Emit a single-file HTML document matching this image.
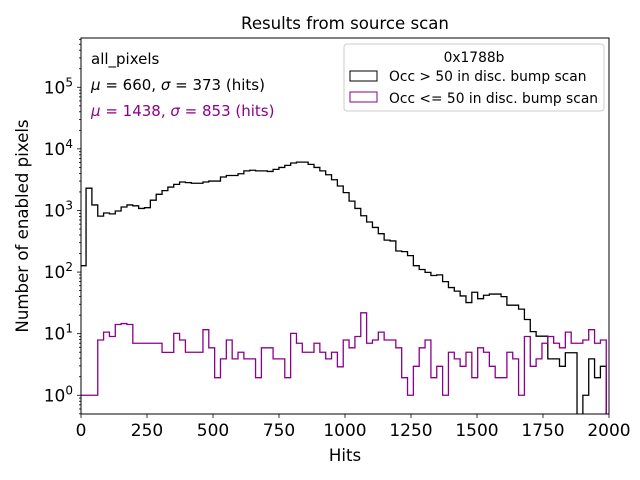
<!DOCTYPE html>
<html><head><meta charset="utf-8"><style>
html,body{margin:0;padding:0;background:#fff;width:640px;height:480px;overflow:hidden}
svg{display:block;font-family:"DejaVu Sans","Liberation Sans",sans-serif}
</style></head><body>
<svg id="chart" width="640" height="480" viewBox="0 0 640 480" xmlns="http://www.w3.org/2000/svg">
<rect width="640" height="480" fill="#fff"/>
<defs><clipPath id="pa"><rect x="81" y="38" width="528" height="376"/></clipPath></defs>
<text x="345" y="29" font-size="16.6" text-anchor="middle">Results from source scan</text>
<g id="series" clip-path="url(#pa)"></g>
<rect x="81" y="38" width="528" height="376" fill="none" stroke="#000" stroke-width="1"/>
<g id="axes"></g>
<text x="345" y="461" font-size="16.6" text-anchor="middle">Hits</text>
<text transform="translate(28,226) rotate(-90)" font-size="16.6" text-anchor="middle">Number of enabled pixels</text>
<text x="91" y="64" font-size="15">all_pixels</text>
<text x="91" y="90" font-size="15"><tspan font-style="italic">μ</tspan> = 660, <tspan font-style="italic">σ</tspan> = 373 (hits)</text>
<text x="91" y="116" font-size="15" fill="#8b008b"><tspan font-style="italic">μ</tspan> = 1438, <tspan font-style="italic">σ</tspan> = 853 (hits)</text>
<g>
<rect x="344" y="44" width="260" height="67" rx="3" fill="#fff" fill-opacity="0.8" stroke="#ccc"/>
<text x="474" y="62" font-size="13.8" text-anchor="middle">0x1788b</text>
<rect x="350" y="71" width="27" height="10" fill="none" stroke="#000"/>
<text x="389" y="81" font-size="13.8">Occ &gt; 50 in disc. bump scan</text>
<rect x="350" y="92" width="27" height="10" fill="none" stroke="#8b008b"/>
<text x="389" y="103" font-size="13.8">Occ &lt;= 50 in disc. bump scan</text>
</g>
</svg>
<script>
const binStart = -3;
const binWidth = 22.14;
const blackCounts = [127,2300,1230,810,910,880,980,1140,1230,1190,1080,1110,1470,1830,2100,2400,2650,2900,2830,2770,2770,2900,3000,3000,3500,3700,3700,3950,4400,4500,
4400,4400,4300,4650,5000,5400,5900,6100,6100,5600,5000,4400,3800,3150,2500,1950,1420,1080,820,650,530,420,330,320,220,215,185,127,110,99,88,
90,70,56,49,41,32,47,37,42,44,44,40,29,29,25,17,10.8,9.1,9.1,3.9,3.9,2.95,4.9,4.9,0,1,3.9,1.93,2.95,0];
const purpleCounts = [1,1,1,7.9,10.6,9.0,14.1,14.6,14.1,7,7,7,7,7,4.97,4.97,10.1,7.9,5,5,5,11.6,5.9,1.93,3.9,7.9,3.9,5,3.9,3.9,
1.93,5.9,5.9,3.9,3.9,1.93,10.1,7,5,5,7,5,3.9,5,2.9,7.9,5.9,9,21.8,7,7.9,10.6,7.9,7.9,5.9,1.93,1,2.95,5.9,7.9,1.93,
2.95,1,5,3.9,2.95,5,1.93,5.9,5,2.95,1.93,1.93,5,3.9,1,9,2.95,3.9,7,9,7,5.9,10.6,7,7,7.9,11.6,7,7.9,0];
const xTicks = [0,250,500,750,1000,1250,1500,1750,2000];
const yTicks = [0,1,2,3,4,5];

const NS = "http://www.w3.org/2000/svg";
const X0=81, X1=609, Y0=414, Y1=38, L0=-0.304, L1=5.8;
function xs(v){return X0+(v-0)/(2000-0)*(X1-X0);}
function ys(c){
  if(!(c>0)) return Y0+1;
  const y=Y0-(Math.log10(c)-L0)/(L1-L0)*(Y0-Y1);
  return Math.min(y,Y0+1);
}

function stepPath(counts){
  let d="M"+xs(binStart)+","+(Y0+1);
  counts.forEach((c,i)=>{
    const a=xs(binStart+i*binWidth), b=xs(binStart+(i+1)*binWidth), y=ys(c);
    d+=" L"+a+","+y+" L"+b+","+y;
  });
  d+=" L"+xs(binStart+counts.length*binWidth)+","+(Y0+1);
  return d;
}
const g=document.getElementById("series");
[[blackCounts,"#000","series-occ-gt-50"],[purpleCounts,"#8b008b","series-occ-le-50"]].forEach(s=>{
  const p=document.createElementNS(NS,"path");
  p.setAttribute("d",stepPath(s[0]));
  p.setAttribute("fill","none");
  p.setAttribute("stroke",s[1]);
  p.setAttribute("stroke-width","1.3");
  
  
  g.appendChild(p);
});
const ax=document.getElementById("axes");
function line(x1,y1,x2,y2,name){
  const l=document.createElementNS(NS,"line");
  l.setAttribute("x1",x1);l.setAttribute("y1",y1);l.setAttribute("x2",x2);l.setAttribute("y2",y2);
  l.setAttribute("stroke","#000");l.setAttribute("stroke-width","0.8");
  
  
  ax.appendChild(l);
}
xTicks.forEach(t=>{
  const x=xs(t);
  line(x,Y0,x,Y0+4,"x-tick");
  const tx=document.createElementNS(NS,"text");
  tx.setAttribute("x",x);tx.setAttribute("y",Y0+22);tx.setAttribute("font-size","17");tx.setAttribute("text-anchor","middle");
  tx.textContent=t;
  
  
  ax.appendChild(tx);
});
for(let e=-1;e<=5;e++){
  for(let m=1;m<=9;m++){
    const v=m*Math.pow(10,e);
    const y=Y0-(Math.log10(v)-L0)/(L1-L0)*(Y0-Y1);
    if(y<Y1-0.5||y>Y0+0.5) continue;
    line(X0-(m===1?4:2),y,X0,y,m===1?"y-major-tick":"y-minor-tick");
  }
}
yTicks.forEach(e=>{
  const y=ys(Math.pow(10,e));
  const tx=document.createElementNS(NS,"text");
  tx.setAttribute("x",X0-8);tx.setAttribute("y",y+6);tx.setAttribute("font-size","17");tx.setAttribute("text-anchor","end");
  tx.innerHTML='10<tspan dy="-7" font-size="12">'+e+'</tspan>';
  
  
  ax.appendChild(tx);
});
</script>
</body></html>
